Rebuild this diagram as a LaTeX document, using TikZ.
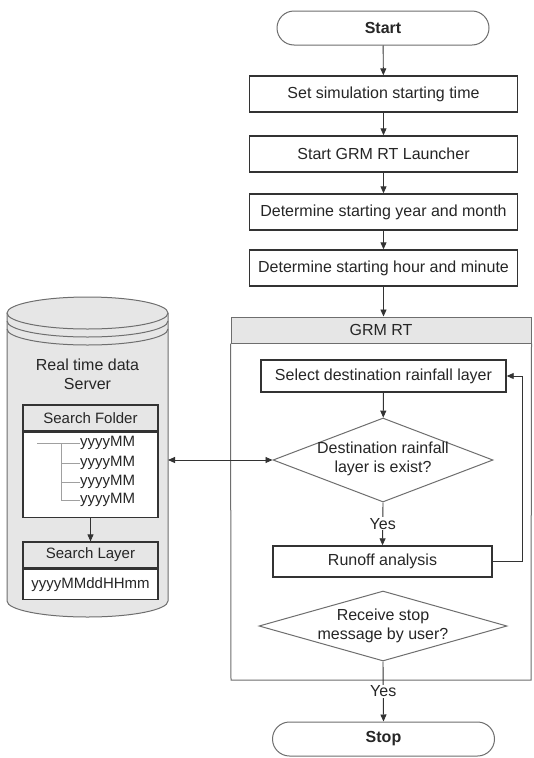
\documentclass[tikz,border=0pt]{standalone}
\usepackage{fontspec}
\setmainfont{Liberation Sans}
\usetikzlibrary{shapes.geometric,arrows.meta}
\definecolor{txt}{HTML}{262626}
\definecolor{edge}{HTML}{333333}
\definecolor{soft}{HTML}{6E6E6E}
\definecolor{band}{HTML}{E6E6E6}
\definecolor{tree}{HTML}{A0A0A0}
\begin{document}
\begin{tikzpicture}[x=1pt,y=-1pt,
  every node/.style={font=\fontsize{16}{19}\selectfont, text=txt},
  small/.style={font=\fontsize{15}{18}\selectfont},
  term/.style={draw=soft, line width=1pt, rounded corners=17pt, minimum height=34pt, inner sep=0pt},
  stepbox/.style={draw=edge, line width=1.4pt, minimum width=268pt, minimum height=36pt, inner sep=0pt},
  inbox/.style={draw=edge, line width=1.4pt, inner sep=0pt},
  decide/.style={diamond, draw=soft, line width=1pt, inner sep=0pt},
  hdr/.style={draw=soft, fill=band, line width=1pt, inner sep=0pt},
  sbox/.style={draw=edge, line width=1.2pt, minimum width=135pt, inner sep=0pt},
  arr/.style={draw=edge, line width=0.9pt, -{Triangle[length=7pt,width=6pt]}},
  arrtwo/.style={draw=edge, line width=0.9pt, {Triangle[length=7pt,width=6pt]}-{Triangle[length=7pt,width=6pt]}},
  plain/.style={draw=edge, line width=0.9pt}
]
\useasboundingbox (0,0) rectangle (534,758);
\fill[white] (0,0) rectangle (534,758);

% ---------- server cylinder ----------
\fill[band] (7,313) -- (7,601) arc[start angle=180,end angle=0,x radius=80.5,y radius=16] -- (168,313) -- cycle;
\draw[soft, line width=1pt] (7,313) -- (7,601) arc[start angle=180,end angle=0,x radius=80.5,y radius=16] -- (168,313);
\filldraw[fill=band, draw=soft, line width=1pt] (87.5,313) ellipse [x radius=80.5, y radius=16];
\draw[soft, line width=1pt] (7,321) arc[start angle=180,end angle=0,x radius=80.5,y radius=16];
\draw[soft, line width=1pt] (7,329) arc[start angle=180,end angle=0,x radius=80.5,y radius=16];
\coordinate (cylR) at (168,460);

\node[align=center] (srv) at (87.5,374) {Real time data\\Server};

\node[sbox, hdr, draw=edge, line width=1.2pt, minimum height=26pt, small] (sfh) at (90.5,418) {Search Folder};
\node[sbox, fill=white, minimum height=85pt, anchor=north] (sfb) at (sfh.south) {};
\draw[tree, line width=1pt] (37,443) -- (80,443);
\draw[tree, line width=1pt] (61,443) -- (61,500);
\draw[tree, line width=1pt] (61,463) -- (80,463);
\draw[tree, line width=1pt] (61,482) -- (80,482);
\draw[tree, line width=1pt] (61,500) -- (80,500);
\node[small, anchor=west, inner sep=0pt] (f1) at (80,443) {yyyyMM};
\node[small, anchor=west, inner sep=0pt] (f2) at (80,463) {yyyyMM};
\node[small, anchor=west, inner sep=0pt] (f3) at (80,482) {yyyyMM};
\node[small, anchor=west, inner sep=0pt] (f4) at (80,500) {yyyyMM};

\node[sbox, hdr, draw=edge, line width=1.2pt, minimum height=26pt, small] (slh) at (90.5,555) {Search Layer};
\node[sbox, fill=white, minimum height=30pt, anchor=north, small] (slb) at (slh.south) {yyyyMMddHHmm};
\draw[arr] (sfb.south) -- (slh.north);

% ---------- main flow ----------
\node[term, minimum width=212pt] (start) at (383,28) {\textbf{Start}};
\node[stepbox] (b1) at (383.5,94) {Set simulation starting time};
\node[stepbox] (b2) at (383.5,154) {Start GRM RT Launcher};
\node[stepbox] (b3) at (383.5,212) {Determine starting year and month};
\node[stepbox] (b4) at (383.5,268) {Determine starting hour and minute};
\draw[arr] (start) -- (b1);
\draw[arr] (b1) -- (b2);
\draw[arr] (b2) -- (b3);
\draw[arr] (b3) -- (b4);

% container
\node[hdr, minimum width=300pt, minimum height=26pt] (grm) at (381,330) {GRM RT};
\draw[soft, line width=1pt] (grm.south west) -- (231,680) -- (531,680) -- (grm.south east);
\draw[arr] (b4.south) -- (b4.south |- grm.north);

\node[inbox, minimum width=245pt, minimum height=32pt] (sel) at (383.5,376) {Select destination rainfall layer};
\node[decide, minimum width=220pt, minimum height=84pt] (d1) at (383,460) {};
\node[align=center, inner sep=0pt] (d1t) at (383,459) {Destination rainfall\\layer is exist?};
\node[inbox, minimum width=219pt, minimum height=31pt] (run) at (382.5,561.5) {Runoff analysis};
\node[decide, minimum width=248pt, minimum height=70pt] (d2) at (383,626) {};
\node[align=center, inner sep=0pt] (d2t) at (383,626) {Receive stop\\message by user?};
\node[term, minimum width=222pt, rounded corners=17pt] (stop) at (383.5,739) {\textbf{Stop}};

\draw[arr] (sel) -- (d1);
\draw[arr] (d1.south) -- node[fill=white, inner sep=1pt] (y1) {Yes} (run.north);
\draw[arr] (run.east) -- ++(30,0) |- (sel.east);
\draw[arr] (d2.south) -- node[fill=white, inner sep=1pt, pos=0.5] (y2) {Yes} (stop.north);
\draw[arrtwo] (cylR) -- (d1.west);
\end{tikzpicture}
\end{document}
